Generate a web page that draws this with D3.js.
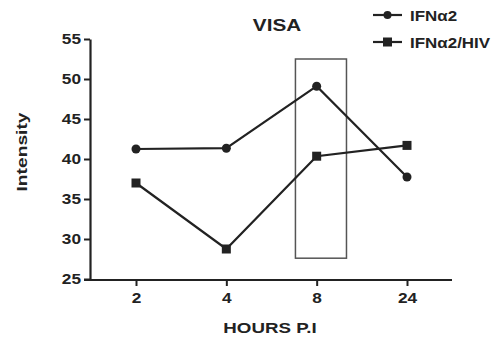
<!DOCTYPE html>
<html><head><meta charset="utf-8">
<script src="https://cdn.jsdelivr.net/npm/d3@7"></script>
<style>body{margin:0;background:#fff}svg{display:block}text{font-family:"Liberation Sans",Arial,sans-serif;font-weight:bold;fill:#222}</style>
</head><body><div id="c"></div>
<script>
const categories = ["2","4","8","24"];
const ifn = [41.25, 41.35, 49.1, 37.75];
const ifnHiv = [37.0, 28.75, 40.35, 41.7];
const yTicks = [25,30,35,40,45,50,55];
const highlightCat = "8";
const highlightRange = [27.6, 52.5];

const W=500,H=346;
const svg=d3.select("#c").append("svg").attr("width",W).attr("height",H);
const x=d3.scalePoint().domain(categories).range([136,407]);
const y=d3.scaleLinear().domain([25,55]).range([279,39]);
const col="#222";

// stretched text helper
function stext(g,tx,ty,str,size,sx,anchor,rot){
  const t=g.append("text").attr("font-size",size).attr("text-anchor",anchor||"start").text(str);
  t.attr("transform",`translate(${tx},${ty})`+(rot?` rotate(${rot})`:"")+` scale(${sx},1)`);
  return t;
}

// highlight box
const step=x.step();
svg.append("rect").attr("x",x(highlightCat)-step*0.235).attr("y",y(highlightRange[1]))
  .attr("width",step*0.565).attr("height",y(highlightRange[0])-y(highlightRange[1]))
  .attr("fill","none").attr("stroke","#555").attr("stroke-width",1.5);

// y axis
const ya=svg.append("g").attr("transform","translate(90,0)")
  .call(d3.axisLeft(y).tickValues(yTicks).tickSize(6).tickSizeOuter(0));
ya.select(".domain").attr("stroke",col).attr("stroke-width",2.2);
ya.selectAll(".tick line").attr("stroke",col).attr("stroke-width",2);
ya.selectAll(".tick text").attr("font-size",15).attr("x",-9).attr("transform","scale(1.15,1)").style("fill",col)
  .attr("x",-9/1.15);

// x axis
const xa=svg.append("g").attr("transform","translate(0,280)")
  .call(d3.axisBottom(x).tickSize(6).tickSizeOuter(0));
xa.select(".domain").remove();
xa.append("line").attr("x1",84).attr("x2",452).attr("y1",0).attr("y2",0).attr("stroke",col).attr("stroke-width",2.2);
xa.selectAll(".tick line").attr("stroke",col).attr("stroke-width",2);
xa.selectAll(".tick text").attr("font-size",15).attr("y",12).attr("transform","scale(1.15,1)").style("fill",col);

const line=d3.line().x((d,i)=>x(categories[i])).y(d=>y(d));
svg.append("path").datum(ifn).attr("d",line).attr("fill","none").attr("stroke",col).attr("stroke-width",2.2);
svg.append("path").datum(ifnHiv).attr("d",line).attr("fill","none").attr("stroke",col).attr("stroke-width",2.2);
svg.selectAll(".c").data(ifn).enter().append("circle").attr("cx",(d,i)=>x(categories[i])).attr("cy",d=>y(d)).attr("r",4.5).attr("fill",col);
svg.selectAll(".s").data(ifnHiv).enter().append("rect").attr("x",(d,i)=>x(categories[i])-4.5).attr("y",d=>y(d)-4.5).attr("width",9).attr("height",9).attr("fill",col);

// title
stext(svg,277,31,"VISA",17,1.22,"middle");
// axis titles
stext(svg,270,333,"HOURS P.I",15,1.25,"middle");
stext(svg,27,152,"Intensity",15,1.28,"middle",-90);

// legend
const lg=[{n:"IFN\u03b12",s:"c"},{n:"IFN\u03b12/HIV",s:"s"}];
lg.forEach((d,i)=>{
  const yy=15+i*27;
  svg.append("line").attr("x1",373).attr("x2",402).attr("y1",yy).attr("y2",yy).attr("stroke",col).attr("stroke-width",2.2);
  if(d.s==="c") svg.append("circle").attr("cx",387.5).attr("cy",yy).attr("r",4).attr("fill",col);
  else svg.append("rect").attr("x",383).attr("y",yy-4.5).attr("width",9).attr("height",9).attr("fill",col);
  stext(svg,410,yy+5.5,d.n,15,1.13);
});
</script></body></html>
